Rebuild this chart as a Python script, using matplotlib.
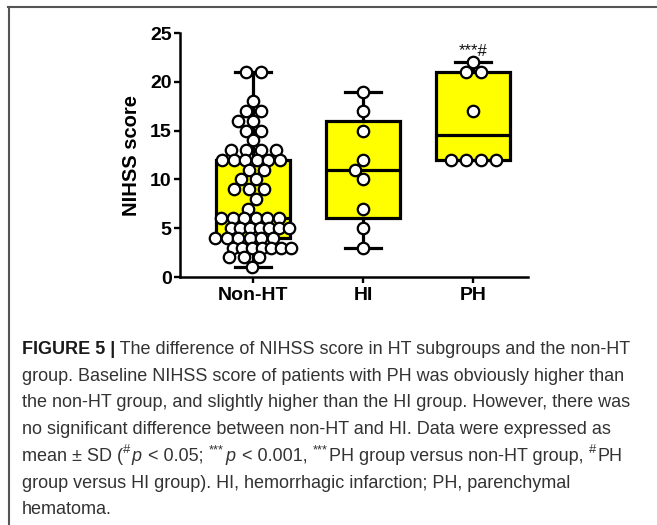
import numpy as np
import matplotlib
matplotlib.use("Agg")
import matplotlib.pyplot as plt
from matplotlib.lines import Line2D

# ---------------- data ----------------
categories = ["Non-HT", "HI", "PH"]
nonht_values = [21, 21, 18, 17, 17, 16, 16, 15, 15, 14,
                13, 13, 13, 13, 12, 12, 12, 12, 12, 12,
                11, 11, 10, 10, 9, 9, 9, 8, 7,
                6, 6, 6, 6, 6, 6, 5, 5, 5, 5, 5, 5, 5,
                4, 4, 4, 4, 4, 4, 3, 3, 3, 3, 3, 3, 3,
                2, 2, 2, 1]
hi_values = [19, 17, 15, 12, 11, 10, 7, 5, 3]
ph_values = [22, 21, 21, 17, 12, 12, 12, 12]
yticks = [0, 5, 10, 15, 20, 25]
ph_annotation = "***#"
ylabel = "NIHSS score"

# caption: each line is a list of (text, style); style in n, b, i, s
caption = [
    [("FIGURE 5 |", "b"), (" The difference of NIHSS score in HT subgroups and the non-HT", "n")],
    [("group. Baseline NIHSS score of patients with PH was obviously higher than", "n")],
    [("the non-HT group, and slightly higher than the HI group. However, there was", "n")],
    [("no significant difference between non-HT and HI. Data were expressed as", "n")],
    [("mean \u00b1 SD (", "n"), ("#", "s"), ("p", "i"), (" < 0.05; ", "n"), ("***", "s"),
     ("p", "i"), (" < 0.001, ", "n"), ("***", "s"), ("PH group versus non-HT group, ", "n"),
     ("#", "s"), ("PH", "n")],
    [("group versus HI group). HI, hemorrhagic infarction; PH, parenchymal", "n")],
    [("hematoma.", "n")],
]

plt.rcParams['font.family'] = ['Liberation Sans', 'DejaVu Sans']

W, H = 657, 525
fig = plt.figure(figsize=(W / 100, H / 100), dpi=100)

ax_left_px, ax_right_px = 180, 528
ax_bottom_px, ax_top_px = 277, 33
ax = fig.add_axes([ax_left_px / W, 1 - ax_bottom_px / H,
                   (ax_right_px - ax_left_px) / W, (ax_bottom_px - ax_top_px) / H])

xlim = (-0.664, 2.5)
ylim = (0, 25)
ax.set_xlim(*xlim)
ax.set_ylim(*ylim)
px_x = (ax_right_px - ax_left_px) / (xlim[1] - xlim[0])
px_y = (ax_bottom_px - ax_top_px) / (ylim[1] - ylim[0])


def stats_for(vals):
    v = np.asarray(vals, float)
    q1, med, q3 = np.percentile(v, [25, 50, 75], method='weibull')
    return dict(med=med, q1=q1, q3=q3, whislo=v.min(), whishi=v.max(), fliers=[])


def swarm_offsets(values, d=12.5):
    vals = np.asarray(values, float)
    placed = []
    offsets = np.zeros(len(vals))
    for v in sorted(set(vals), reverse=True):
        idx = np.where(vals == v)[0]
        k = len(idx)
        sp = min(15.0, 58.0 / (k - 1)) if k > 1 else 0.0
        base = (np.arange(k) - (k - 1) / 2) * sp
        y = v * px_y
        best = None
        for shift in sorted(np.arange(-9, 9.5, 0.5), key=abs):
            xs = base + shift
            cost = 0.0
            for (px, py) in placed:
                dist = np.hypot(xs - px, y - py)
                cost += np.clip(d - dist, 0, None).sum()
            cost += 0.02 * abs(shift)
            if best is None or cost < best[0] - 1e-9:
                best = (cost, shift)
        xs = base + best[1]
        offsets[idx] = xs / px_x
        placed.extend(zip(xs, [y] * k))
    return offsets


groups = [nonht_values, hi_values, ph_values]
stats = [stats_for(g) for g in groups]
lw_box = 2.3
ax.bxp(stats, positions=range(len(categories)), widths=0.68, patch_artist=True,
       showfliers=False,
       boxprops=dict(facecolor='#FFFF00', edgecolor='black', linewidth=lw_box),
       medianprops=dict(color='black', linewidth=lw_box),
       whiskerprops=dict(color='black', linewidth=lw_box),
       capprops=dict(color='black', linewidth=lw_box),
       capwidths=0.32, zorder=2)

for i, g in enumerate(groups):
    offs = swarm_offsets(g)
    ax.scatter(i + offs, g, s=68, facecolor='white', edgecolor='black',
               linewidth=1.6, zorder=3, clip_on=False)

ax.text(2, 22.6, ph_annotation, ha='center', va='baseline', fontsize=12,
        color='#111111')

for s in ['top', 'right']:
    ax.spines[s].set_visible(False)
for s in ['left', 'bottom']:
    ax.spines[s].set_linewidth(1.8)
ax.set_yticks(yticks)
ax.set_xticks(range(len(categories)))
ax.set_xticklabels(categories)
ax.tick_params(axis='both', direction='out', length=4.5, width=1.7,
               labelsize=14)
ax.tick_params(axis='y', pad=1.5)
ax.tick_params(axis='x', pad=3.0)
for lab in ax.get_xticklabels() + ax.get_yticklabels():
    lab.set_fontweight('bold')
ax.set_ylabel(ylabel, fontsize=14.5, fontweight='bold')
ax.yaxis.set_label_coords(-0.112, 0.5)

# ---------------- frame ----------------
fcol = '#555555'
fig.add_artist(Line2D([8 / W, 1], [1 - 6.5 / H, 1 - 6.5 / H], color=fcol,
                      linewidth=1.5, transform=fig.transFigure))
fig.add_artist(Line2D([8.5 / W, 8.5 / W], [0, 1 - 6.5 / H], color=fcol,
                      linewidth=1.5, transform=fig.transFigure))

# ---------------- caption ----------------
cap_fs = 13.0
cap_col = '#333333'
x0_px = 22
base0 = 354
spacing = 26.7
renderer = fig.canvas.get_renderer()
for i, line in enumerate(caption):
    xpx = x0_px
    ybase = H - (base0 + i * spacing)
    for txt, st in line:
        kw = dict(fontsize=cap_fs, color=cap_col, va='baseline', ha='left')
        yy = ybase
        if st == 'b':
            kw.update(fontweight='bold', color='#1a1a1a')
        elif st == 'i':
            kw.update(style='italic')
        elif st == 's':
            kw.update(fontsize=cap_fs * 0.72)
            yy = ybase + cap_fs * 0.42 * 100 / 72
        t = fig.text(xpx / W, yy / H, txt, **kw)
        bb = t.get_window_extent(renderer=renderer)
        xpx = bb.x1 + (1.5 if st in ('i', 's') else 0.0)

fig.savefig('out.png', dpi=100)
